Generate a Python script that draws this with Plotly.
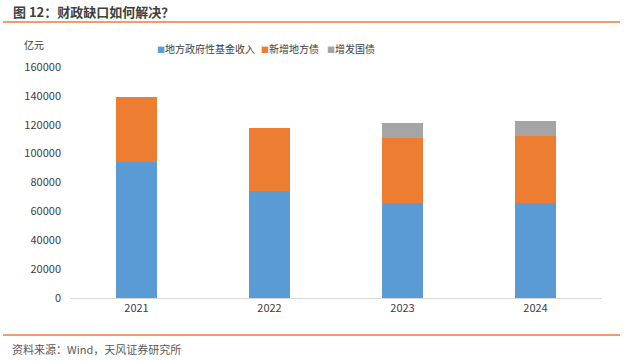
import plotly.graph_objects as go

years = ["2021", "2022", "2023", "2024"]
land_fund = [94500, 74100, 65800, 65800]
new_local_bonds = [44900, 43800, 45200, 46400]
extra_treasury = [0, 0, 10000, 10400]

names = ["地方政府性基金收入", "新增地方债", "增发国债"]
colors = ["#5B9BD5", "#ED7D31", "#A5A5A5"]
series = [land_fund, new_local_bonds, extra_treasury]

yticks = [0, 20000, 40000, 60000, 80000, 100000, 120000, 140000, 160000]

font_family = "Microsoft YaHei, Noto Sans CJK SC, sans-serif"

fig = go.Figure()
for n, c, s in zip(names, colors, series):
    fig.add_trace(go.Bar(x=years, y=s, name=n, marker=dict(color=c, line=dict(width=0)),
                         showlegend=False))

fig.update_layout(
    width=635, height=361,
    margin=dict(l=70, r=33, t=67, b=63),
    barmode="stack",
    bargap=0.687,
    showlegend=False,
    paper_bgcolor="white", plot_bgcolor="white",
    font=dict(family=font_family, size=11, color="#404040"),
    xaxis=dict(showgrid=False, showline=True, linecolor="#D9D9D9", linewidth=1,
               ticks="", tickfont=dict(size=11, color="#404040")),
    yaxis=dict(range=[0, 160000], tickvals=yticks, ticktext=[str(v) for v in yticks],
               showgrid=False, zeroline=False, showline=False, ticks="",
               ticklabelstandoff=8,
               tickfont=dict(size=11, color="#404040")),
)

# legend drawn as text entries
legend_x = [155, 259, 325]
for n, c, lx in zip(names, colors, legend_x):
    fig.add_annotation(text=f"<span style='color:{c};font-size:8px'>■</span>{n}",
                       xref="paper", yref="paper",
                       x=(lx - 70) / 532, y=(298 - 49) / 231, xanchor="left", yanchor="middle",
                       showarrow=False, font=dict(size=10, color="#404040"))

# header / footer
fig.add_annotation(text="<b>图 12：财政缺口如何解决？</b>", xref="paper", yref="paper",
                   x=(11 - 70) / 532, y=(298 - 12) / 231, xanchor="left", yanchor="middle",
                   showarrow=False, font=dict(size=13, color="#404040"))
fig.add_annotation(text="亿元", xref="paper", yref="paper",
                   x=(22 - 70) / 532, y=(298 - 45) / 231, xanchor="left", yanchor="middle",
                   showarrow=False, font=dict(size=10, color="#404040"))
fig.add_annotation(text="资料来源：Wind，天风证券研究所", xref="paper", yref="paper",
                   x=(10 - 70) / 532, y=(298 - 349) / 231, xanchor="left", yanchor="middle",
                   showarrow=False, font=dict(size=11, color="#595959"))
fig.add_shape(type="line", xref="paper", yref="paper",
              x0=(3 - 70) / 532, x1=(620 - 70) / 532,
              y0=(298 - 22) / 231, y1=(298 - 22) / 231,
              line=dict(color="#ED7D31", width=1.5))
fig.add_shape(type="line", xref="paper", yref="paper",
              x0=(3 - 70) / 532, x1=(620 - 70) / 532,
              y0=(298 - 335) / 231, y1=(298 - 335) / 231,
              line=dict(color="#ED7D31", width=1.5))

fig.write_html("out.html", config={"displayModeBar": False},
               post_script="document.body.style.margin='0';document.body.style.overflow='hidden';")
